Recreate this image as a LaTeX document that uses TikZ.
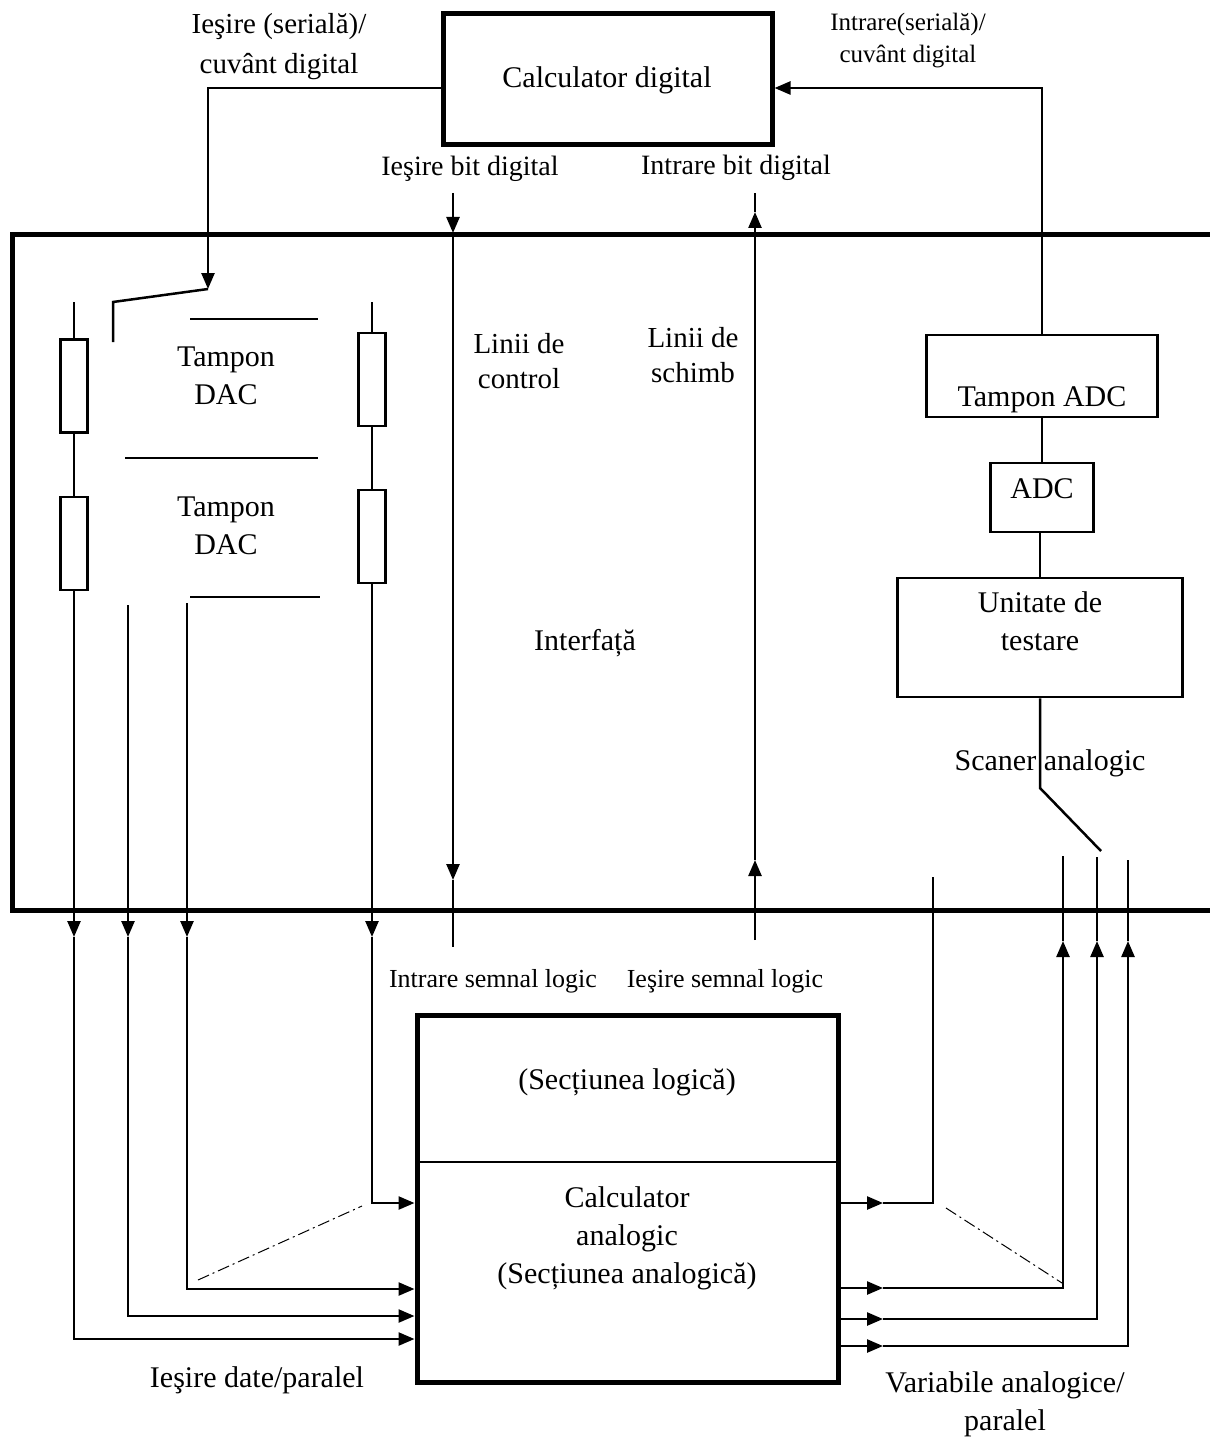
\documentclass[tikz,border=0pt]{standalone}
\usepackage{fontspec}
\setmainfont{Liberation Serif}
\usetikzlibrary{arrows.meta}
\tikzset{
  thickbox/.style={draw, line width=5pt, inner sep=0pt},
  plainbox/.style={draw, line width=2.5pt, inner sep=0pt},
  resbox/.style={draw, line width=2.5pt, inner sep=0pt, minimum width=27pt},
  wire/.style={line width=2.5pt},
  thinline/.style={line width=1.3pt},
  frame/.style={line width=5pt, line join=miter},
  arr/.style={-{Triangle[length=16pt,width=13pt]}},
  lbl/.style={font=\fontsize{30}{38}\selectfont, align=center, inner sep=0pt},
  lblb/.style={font=\fontsize{28}{36}\selectfont, align=center, inner sep=0pt},
  lbls/.style={font=\fontsize{26}{32}\selectfont, align=center, inner sep=0pt},
  dashdot/.style={line width=1pt, dash pattern=on 12pt off 4pt on 2pt off 4pt},
}
\begin{document}
\begin{tikzpicture}[x=1pt,y=-1pt]
\useasboundingbox (0,0) rectangle (1209,1439);

% ---------- main blocks ----------
\node[thickbox, minimum width=329pt, minimum height=131pt] (cd) at (607.5,79.5) {};
\node[lbl] (cdt) at (607,80) {Calculator digital};

\node[thickbox, minimum width=421pt, minimum height=367pt] (ac) at (627.5,1198.5) {};
\coordinate (divL) at (417,1162);
\coordinate (divR) at (838,1162);
\draw[thinline] (divL) -- (divR);
\node[lbl] (logt) at (627,1082) {(Secțiunea logică)};
\node[lbl] (act) at (627,1238) {Calculator\\analogic\\(Secțiunea analogică)};

% ---------- interface frame ----------
\coordinate (fTR) at (1212,235);
\coordinate (fTL) at (12,235);
\coordinate (fBL) at (12,910);
\coordinate (fBR) at (1212,910);
\draw[frame] (fTR) -- (fTL) -- (fBL) -- (fBR);
\node[lbl] (intf) at (585,643) {Interfață};

% ---------- top labels ----------
\node[font=\fontsize{29}{40}\selectfont, align=center, inner sep=0pt] (serout) at (279,47) {Ieşire (serială)/\\cuvânt digital};
\node[font=\fontsize{25}{32}\selectfont, align=center, inner sep=0pt] (serin) at (908,41) {Intrare(serială)/\\cuvânt digital};
\node[lblb] (bitout) at (470,169) {Ieşire bit digital};
\node[lblb] (bitin) at (736,168) {Intrare bit digital};
\node[font=\fontsize{29}{35}\selectfont, align=center, inner sep=0pt] (ctl) at (519,361) {Linii de\\control};
\node[font=\fontsize{29}{35}\selectfont, align=center, inner sep=0pt] (xch) at (693,355) {Linii de\\schimb};

% ---------- DAC section ----------
\node[resbox, minimum height=93pt] (rL1) at (74,386) {};
\node[resbox, minimum height=93pt] (rL2) at (74,543.5) {};
\node[resbox, minimum height=93pt] (rR1) at (372,379.5) {};
\node[resbox, minimum height=93pt] (rR2) at (372,536.5) {};
\node[lbl] (tp1) at (226,376) {Tampon\\DAC};
\node[lbl] (tp2) at (226,526) {Tampon\\DAC};
\coordinate (s1a) at (190,319); \coordinate (s1b) at (318,319);
\coordinate (s2a) at (125,458); \coordinate (s2b) at (318,458);
\coordinate (s3a) at (190,597); \coordinate (s3b) at (320,597);
\draw[thinline] (s1a) -- (s1b);
\draw[thinline] (s2a) -- (s2b);
\draw[thinline] (s3a) -- (s3b);

\coordinate (lTop) at (74,302);
\coordinate (rTop) at (372,302);
\draw[wire] (lTop) -- (rL1.north);
\draw[wire] (rL1.south) -- (rL2.north);
\draw[wire] (rTop) -- (rR1.north);
\draw[wire] (rR1.south) -- (rR2.north);

% serial output to switch
\coordinate (so1) at (208,88);
\coordinate (so2) at (208,289);
\coordinate (sw1) at (113,302);
\coordinate (sw2) at (113,342);
\draw[wire, arr] (cd.west |- so1) -- (so1) -- (so2);
\draw[wire] (so2) -- (sw1) -- (sw2);

% DAC outputs
\coordinate (a1) at (74,937);  \coordinate (e1) at (74,1339);
\coordinate (b1top) at (128,605); \coordinate (a2) at (128,937); \coordinate (e2) at (128,1316);
\coordinate (c1top) at (187,603); \coordinate (a3) at (187,937); \coordinate (e3) at (187,1289);
\coordinate (a4) at (372,937); \coordinate (e4) at (372,1203);
\draw[wire, arr] (rL2.south) -- (a1);
\draw[wire, arr] (a1) -- (e1) -- (ac.west |- e1);
\draw[wire, arr] (b1top) -- (a2);
\draw[wire, arr] (a2) -- (e2) -- (ac.west |- e2);
\draw[wire, arr] (c1top) -- (a3);
\draw[wire, arr] (a3) -- (e3) -- (ac.west |- e3);
\draw[wire, arr] (rR2.south) -- (a4);
\draw[wire, arr] (a4) -- (e4) -- (ac.west |- e4);
\coordinate (dd1a) at (198,1280); \coordinate (dd1b) at (362,1206);
\draw[dashdot] (dd1a) -- (dd1b);
\node[lbl] (dout) at (257,1380) {Ieşire date/paralel};

% ---------- control lines ----------
\coordinate (c0) at (453,193);
\coordinate (c1) at (453,233);
\coordinate (c2) at (453,880);
\coordinate (c3) at (453,947);
\draw[wire, arr] (c0) -- (c1);
\draw[wire, arr] (c1) -- (c2);
\draw[wire] (c2) -- (c3);

\coordinate (x0) at (755,940);
\coordinate (x1) at (755,860);
\coordinate (x2) at (755,212);
\coordinate (x3) at (755,193);
\draw[wire, arr] (x0) -- (x1);
\draw[wire, arr] (x1) -- (x2);
\draw[wire] (x2) -- (x3);

\node[lbls] (sin) at (493,981) {Intrare semnal logic};
\node[lbls] (sout) at (725,981) {Ieşire semnal logic};

% ---------- ADC section ----------
\node[plainbox, minimum width=231pt, minimum height=82pt] (tadc) at (1042,376) {};
\node[lbl] (tadct) at (1042,400) {Tampon ADC};
\node[plainbox, minimum width=103pt, minimum height=69pt] (adc) at (1042,497.5) {};
\node[lbl] (adct) at (1042,489) {ADC};
\node[plainbox, minimum width=285pt, minimum height=119pt] (ut) at (1040,637.5) {};
\node[lbl] (utt) at (1040,621) {Unitate de\\testare};
\draw[wire] (tadc.south) -- (tadc.south |- adc.north);
\draw[wire] (ut.north) -- (ut.north |- adc.south);

\coordinate (si1) at (1042,88);
\draw[wire, arr] (tadc.north) -- (si1) -- (cd.east |- si1);

\coordinate (sc1) at (1040,788);
\coordinate (sc2) at (1101,851);
\draw[wire] (ut.south) -- (sc1) -- (sc2);
\node[lbl] (sct) at (1050,763) {Scaner analogic};

% analog outputs
\coordinate (o1) at (883,1203); \coordinate (o1c) at (933,1203); \coordinate (o1t) at (933,877);
\coordinate (o2) at (883,1288); \coordinate (o2c) at (1063,1288); \coordinate (u2) at (1063,941); \coordinate (o2t) at (1063,856);
\coordinate (o3) at (883,1319); \coordinate (o3c) at (1097,1319); \coordinate (u3) at (1097,941); \coordinate (o3t) at (1097,857);
\coordinate (o4) at (883,1346); \coordinate (o4c) at (1128,1346); \coordinate (u4) at (1128,941); \coordinate (o4t) at (1128,860);
\draw[wire, arr] (ac.east |- o1) -- (o1);
\draw[wire] (o1) -- (o1c) -- (o1t);
\draw[wire, arr] (ac.east |- o2) -- (o2);
\draw[wire, arr] (o2) -- (o2c) -- (u2);
\draw[wire] (u2) -- (o2t);
\draw[wire, arr] (ac.east |- o3) -- (o3);
\draw[wire, arr] (o3) -- (o3c) -- (u3);
\draw[wire] (u3) -- (o3t);
\draw[wire, arr] (ac.east |- o4) -- (o4);
\draw[wire, arr] (o4) -- (o4c) -- (u4);
\draw[wire] (u4) -- (o4t);
\coordinate (dd2a) at (946,1208); \coordinate (dd2b) at (1062,1283);
\draw[dashdot] (dd2a) -- (dd2b);
\node[lbl] (vout) at (1005,1404) {Variabile analogice/\\paralel};
\end{tikzpicture}
\end{document}
